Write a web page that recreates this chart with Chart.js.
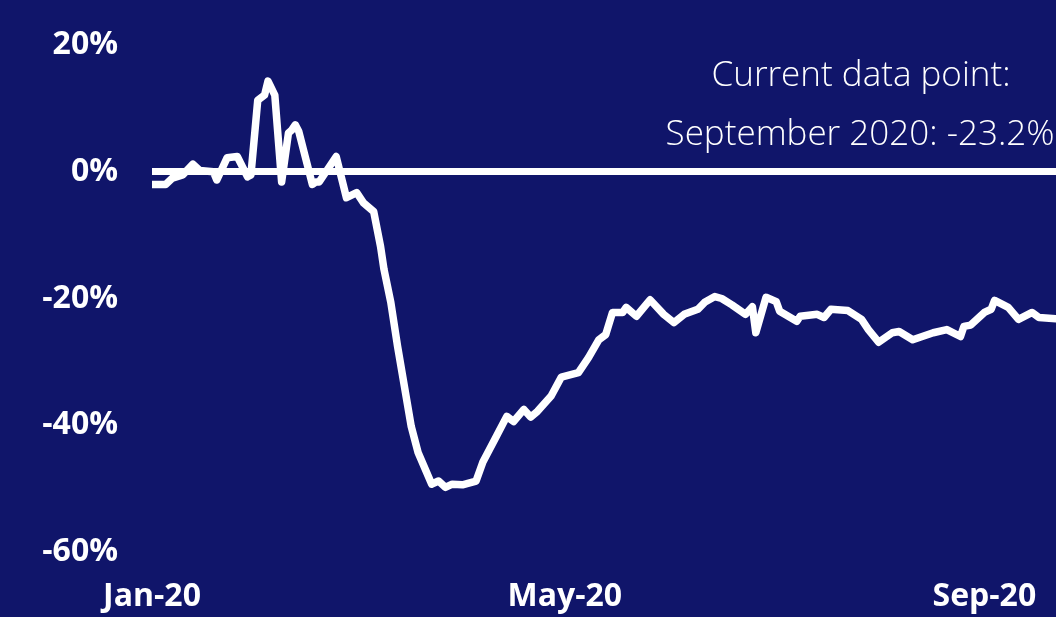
<!DOCTYPE html>
<html>
<head>
<meta charset="utf-8">
<script src="https://cdn.jsdelivr.net/npm/chart.js@4/dist/chart.umd.min.js"></script>
<style>
    html, body {
        margin: 0;
        padding: 0;
        background: #10156a;
        overflow: hidden;
    }
    #chartBox {
        width: 1056px;
        height: 617px;
    }
</style>
</head>
<body>
<div id="chartBox"><canvas id="trend"></canvas></div>
<script>
// days since 1 Jan 2020 and the year-on-year change (%) on that day
const days = [0, 4, 6, 9, 12, 14, 18, 19, 22, 25, 28, 29, 31, 33, 34, 36, 38, 40, 41, 42, 43, 47, 48, 49, 51, 54,
    57, 60, 62, 65, 67, 68, 70, 72, 74, 76, 78, 82, 84, 86, 88, 91, 95, 97, 101, 104, 106, 109, 111, 113, 117, 120,
    125, 128, 131, 133, 135, 138, 139, 142, 146, 150, 153, 156, 160, 162, 165, 167, 170, 174, 176, 177, 180, 183,
    184, 189, 190, 195, 197, 199, 204, 208, 210, 213, 217, 219, 223, 229, 233, 237, 238, 240, 244, 246, 247, 251,
    254, 258, 260, 265];
const changes = [-2.0, -2.0, -1.0, -0.5, 1.2, 0.2, 0.0, -1.3, 2.2, 2.4, -0.8, -0.5, 11.3, 12.1, 14.3, 12.1, -1.6,
    6.1, 6.6, 7.4, 6.4, -2.0, -1.6, -1.6, 0.0, 2.4, -4.1, -3.3, -4.9, -6.3, -11.8, -15.4, -20.6, -27.6, -33.9, -40.2,
    -44.3, -49.3, -48.8, -49.8, -49.3, -49.4, -48.8, -45.8, -41.7, -38.6, -39.4, -37.5, -38.7, -37.8, -35.4, -32.4,
    -31.7, -29.3, -26.5, -25.7, -22.2, -22.2, -21.4, -22.8, -20.2, -22.5, -23.8, -22.5, -21.7, -20.6, -19.7, -20.0,
    -21.0, -22.5, -21.3, -25.4, -19.8, -20.5, -22.0, -23.6, -22.8, -22.5, -23.0, -21.7, -21.9, -23.3, -24.9, -26.9,
    -25.4, -25.2, -26.5, -25.4, -24.9, -26.0, -24.4, -24.2, -22.2, -21.7, -20.3, -21.4, -23.3, -22.2, -23.0, -23.2];

// x axis month ticks (day index) and their labels
const tickDays = [0, 121, 244];
const tickLabels = ['Jan-20', 'May-20', 'Sep-20'];

// y axis range in percent
const yTicks = [-60, -40, -20, 0, 20];

const currentLabel = ['Current data point:', 'September 2020: -23.2%'];

/**
 * Writes the two line note about the latest value in the top right corner.
 */
const notePlugin = {
    id: 'note',
    afterDraw(chart) {
        const ctx = chart.ctx;
        ctx.save();
        ctx.fillStyle = '#ffffff';
        ctx.font = '300 35px "Open Sans", sans-serif';
        ctx.textAlign = 'center';
        ctx.textBaseline = 'middle';
        ctx.fillText(currentLabel[0], 861, 76);
        ctx.fillText(currentLabel[1], 860, 135);
        ctx.restore();
    }
};

function drawChart(element) {
    const points = days.map((d, i) => ({ x: d, y: changes[i] }));
    const tickFont = { family: '"Open Sans", sans-serif', size: 32, weight: 'bold' };

    new Chart(document.getElementById(element), {
        type: 'line',
        data: {
            datasets: [{
                data: points,
                borderColor: '#ffffff',
                borderWidth: 7.5,
                pointRadius: 0,
                tension: 0,
                borderJoinStyle: 'round',
                borderCapStyle: 'round'
            }]
        },
        options: {
            responsive: true,
            maintainAspectRatio: false,
            animation: false,
            layout: { padding: { left: 43, right: 0, top: 45, bottom: 0 } },
            plugins: {
                legend: { display: false },
                tooltip: { enabled: false }
            },
            scales: {
                x: {
                    type: 'linear',
                    min: 0,
                    max: 265,
                    border: { display: false },
                    grid: { display: false, drawTicks: false },
                    afterFit: (scale) => {
                        scale.height = 65;
                        scale.paddingLeft = 0;
                        scale.paddingRight = 0;
                    },
                    afterBuildTicks: (scale) => {
                        scale.ticks = tickDays.map(v => ({ value: v }));
                    },
                    ticks: {
                        color: '#ffffff',
                        font: tickFont,
                        padding: 26,
                        maxRotation: 0,
                        autoSkip: false,
                        callback: (value) => tickLabels[tickDays.indexOf(value)]
                    }
                },
                y: {
                    min: yTicks[0],
                    max: yTicks[yTicks.length - 1],
                    border: { display: false },
                    afterFit: (scale) => {
                        scale.width = 109;
                        scale.paddingTop = 0;
                        scale.paddingBottom = 0;
                    },
                    grid: {
                        drawTicks: false,
                        color: (c) => c.tick && c.tick.value === 0 ? '#ffffff' : 'rgba(0,0,0,0)',
                        lineWidth: (c) => c.tick && c.tick.value === 0 ? 7 : 0
                    },
                    afterBuildTicks: (scale) => {
                        scale.ticks = yTicks.map(v => ({ value: v }));
                    },
                    ticks: {
                        color: '#ffffff',
                        font: tickFont,
                        padding: 34,
                        callback: (value) => value + '%'
                    }
                }
            }
        },
        plugins: [notePlugin]
    });
}

drawChart('trend');
</script>
</body>
</html>
